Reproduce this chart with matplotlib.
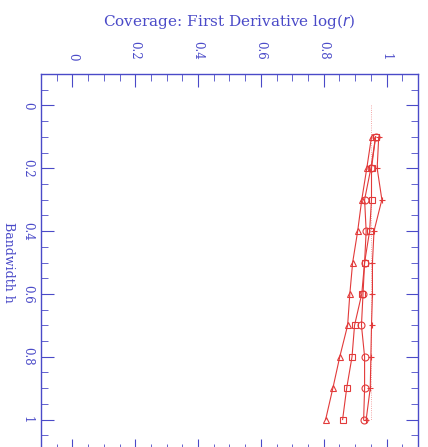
import matplotlib
matplotlib.use("Agg")
import matplotlib.pyplot as plt
from matplotlib.ticker import MultipleLocator

# Data (bandwidth h vs coverage)
bandwidth = [0.1, 0.2, 0.3, 0.4, 0.5, 0.6, 0.7, 0.8, 0.9, 1.0]
cov_tri = [0.952, 0.937, 0.921, 0.908, 0.892, 0.883, 0.876, 0.851, 0.829, 0.806]
cov_sq = [0.965, 0.952, 0.952, 0.946, 0.930, 0.921, 0.898, 0.89, 0.873, 0.860]
cov_circ = [0.965, 0.95, 0.93, 0.935, 0.93, 0.925, 0.92, 0.93, 0.93, 0.927]
cov_dot = [0.975, 0.97, 0.985, 0.96, 0.955, 0.955, 0.952, 0.95, 0.948, 0.935]
nominal = 0.95
tick_vals = [0, 0.2, 0.4, 0.6, 0.8, 1]
tick_labels = ["0", "0.2", "0.4", "0.6", "0.8", "1"]

blue = "#4a4ac8"
red = "#e23a3a"

fig = plt.figure(figsize=(4.28, 4.47), dpi=100)
ax = fig.add_axes([41/428, 1 - 451/447, 377/428, 377/447])

ax.plot([nominal, nominal], [0.0, 1.0], color=red, lw=0.6, ls=":", alpha=0.6)
ax.plot(cov_tri, bandwidth, color=red, lw=0.8, marker="^", ms=4.5, mfc="none", mec=red, mew=0.8)
ax.plot(cov_sq, bandwidth, color=red, lw=0.8, marker="s", ms=4, mfc="none", mec=red, mew=0.8)
ax.plot(cov_circ, bandwidth, color=red, lw=0.8, marker="o", ms=5, mfc="none", mec=red, mew=0.8)
ax.plot(cov_dot, bandwidth, color=red, lw=0.8, marker="+", ms=4, mec=red, mew=0.8)

ax.set_xlim(-0.1, 1.1)
ax.set_ylim(1.1, -0.1)

for s in ax.spines.values():
    s.set_color(blue)
    s.set_linewidth(1.0)

ax.set_xticks(tick_vals)
ax.set_xticklabels(tick_labels)
ax.set_yticks(tick_vals)
ax.set_yticklabels(tick_labels)
ax.xaxis.set_minor_locator(MultipleLocator(0.05))
ax.yaxis.set_minor_locator(MultipleLocator(0.05))
ax.tick_params(which="both", direction="in", top=True, bottom=True, left=True, right=True,
               labeltop=True, labelbottom=False, labelleft=True, labelright=False,
               color=blue, labelcolor=blue)
ax.tick_params(which="major", length=9, width=0.8, labelsize=8.5)
ax.tick_params(which="minor", length=5, width=0.6)
ax.tick_params(axis="x", which="major", pad=10)
ax.tick_params(axis="y", which="major", pad=5)
for lab in ax.get_xticklabels():
    lab.set_rotation(-90)
    lab.set_family("DejaVu Serif")
for lab in ax.get_yticklabels():
    lab.set_rotation(-90)
    lab.set_family("DejaVu Serif")
    lab.set_va("center")

ax.xaxis.set_label_position("top")
ax.set_xlabel(r"Coverage: First Derivative log($r$)", color=blue, fontsize=11,
              family="DejaVu Serif", labelpad=11)
ax.set_ylabel("Bandwidth h", color=blue, fontsize=9, family="DejaVu Serif",
              rotation=-90, va="center", ha="center")
ax.yaxis.set_label_coords(-0.087, 0.5)

fig.savefig("out.png", dpi=100)
